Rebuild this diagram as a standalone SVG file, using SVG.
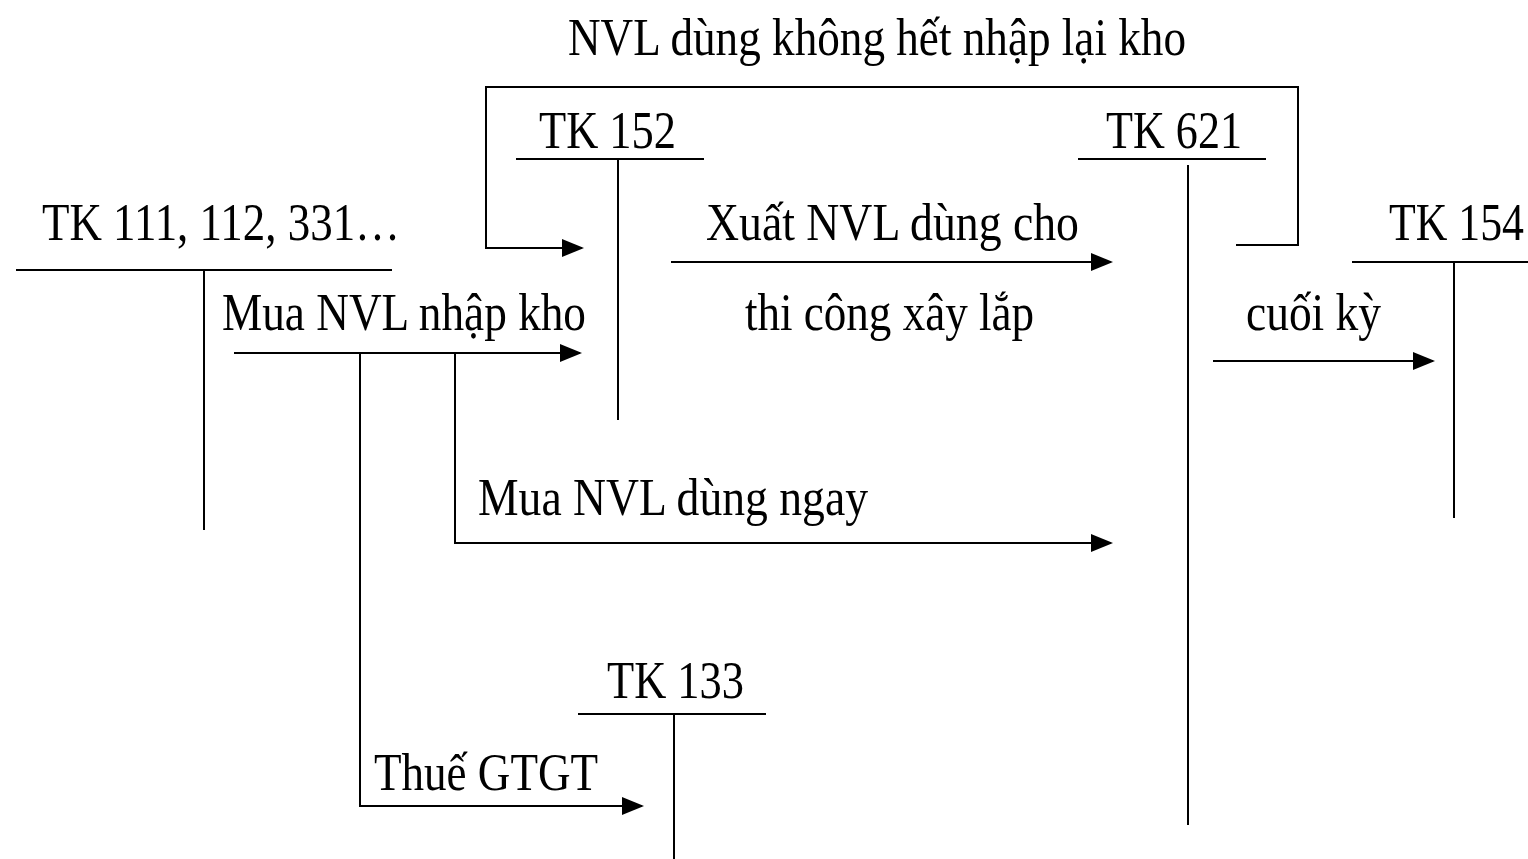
<svg xmlns="http://www.w3.org/2000/svg" width="1528" height="859" viewBox="0 0 1528 859">
<style>
.t{font-family:"Liberation Serif","Times New Roman",serif;font-size:44px;fill:#000}
.l{stroke:#000;stroke-width:2;fill:none}
.a{stroke:#000;stroke-width:2;fill:none;marker-end:url(#ah)}
</style>
<defs>
<marker id="ah" markerUnits="userSpaceOnUse" markerWidth="22" markerHeight="18" refX="20" refY="9" orient="auto">
<path d="M0,0 L22,9 L0,18 Z" fill="#000"/>
</marker>
</defs>
<rect width="1528" height="859" fill="#fff"/>
<g id="tk111">
<text class="t" transform="translate(42,240) scale(1,1.2)" textLength="358" lengthAdjust="spacingAndGlyphs">TK 111, 112, 331…</text>
<line class="l" x1="16" y1="270" x2="392" y2="270"/>
<line class="l" x1="204" y1="270" x2="204" y2="530"/>
</g>
<g id="tk152">
<text class="t" transform="translate(539,148) scale(1,1.2)" textLength="137" lengthAdjust="spacingAndGlyphs">TK 152</text>
<line class="l" x1="516" y1="159" x2="704" y2="159"/>
<line class="l" x1="618" y1="159" x2="618" y2="420"/>
</g>
<g id="tk621">
<text class="t" transform="translate(1106,148) scale(1,1.2)" textLength="136" lengthAdjust="spacingAndGlyphs">TK 621</text>
<line class="l" x1="1078" y1="159" x2="1266" y2="159"/>
<line class="l" x1="1188" y1="165" x2="1188" y2="825"/>
</g>
<g id="tk154">
<text class="t" transform="translate(1389,240) scale(1,1.2)" textLength="135" lengthAdjust="spacingAndGlyphs">TK 154</text>
<line class="l" x1="1352" y1="262" x2="1528" y2="262"/>
<line class="l" x1="1454" y1="262" x2="1454" y2="518"/>
</g>
<g id="tk133">
<text class="t" transform="translate(607,698) scale(1,1.2)" textLength="137" lengthAdjust="spacingAndGlyphs">TK 133</text>
<line class="l" x1="578" y1="714" x2="766" y2="714"/>
<line class="l" x1="674" y1="714" x2="674" y2="859"/>
</g>
<g id="connectors">
<path class="a" d="M1236,245 H1298 V87 H486 V248 H582"/>
<path class="a" d="M234,353 H580"/>
<path class="a" d="M360,353 V806 H642"/>
<path class="a" d="M455,353 V543 H1111"/>
<path class="a" d="M671,262 H1111"/>
<path class="a" d="M1213,361 H1433"/>
</g>
<g id="labels">
<text class="t" transform="translate(568,55) scale(1,1.2)" textLength="618" lengthAdjust="spacingAndGlyphs">NVL dùng không hết nhập lại kho</text>
<text class="t" transform="translate(222,330) scale(1,1.2)" textLength="364" lengthAdjust="spacingAndGlyphs">Mua NVL nhập kho</text>
<text class="t" transform="translate(706,240) scale(1,1.2)" textLength="373" lengthAdjust="spacingAndGlyphs">Xuất NVL dùng cho</text>
<text class="t" transform="translate(745,330) scale(1,1.2)" textLength="289" lengthAdjust="spacingAndGlyphs">thi công xây lắp</text>
<text class="t" transform="translate(1246,330) scale(1,1.2)" textLength="135" lengthAdjust="spacingAndGlyphs">cuối kỳ</text>
<text class="t" transform="translate(478,515) scale(1,1.2)" textLength="390" lengthAdjust="spacingAndGlyphs">Mua NVL dùng ngay</text>
<text class="t" transform="translate(374,790) scale(1,1.2)" textLength="224" lengthAdjust="spacingAndGlyphs">Thuế GTGT</text>
</g>
</svg>
